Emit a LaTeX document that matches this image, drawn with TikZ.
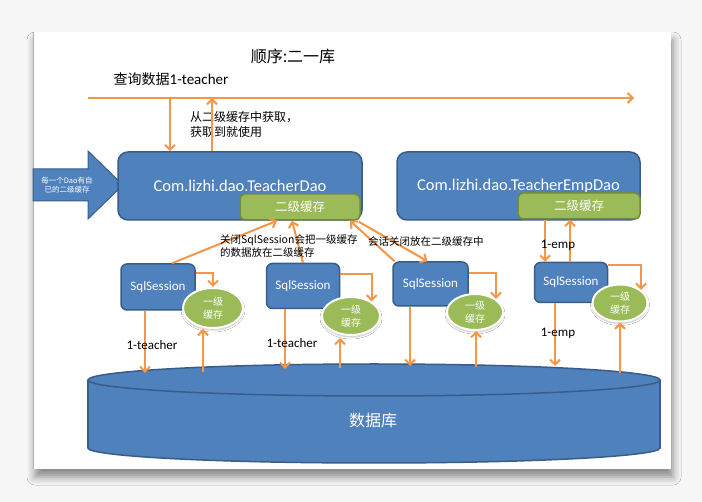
\documentclass[tikz,border=0pt]{standalone}
\usepackage{fontspec}
\setmainfont{Carlito}
\newfontfamily\cjk{Noto Sans CJK SC}
\usetikzlibrary{arrows.meta,positioning,shapes.geometric,shadows.blur,calc}
\definecolor{boxblue}{HTML}{4F81BD}
\definecolor{boxedge}{HTML}{385D8A}
\definecolor{cachegreen}{HTML}{9BBB59}
\definecolor{cacheedge}{HTML}{71893F}
\definecolor{flow}{HTML}{F79646}
\tikzset{
	flowarrow/.style={draw=flow, line width=2pt, -{Straight Barb[length=5pt,width=10pt]}},
	dao/.style={draw=boxedge, line width=1.5pt, fill=boxblue, rounded corners=10pt, minimum width=244pt, minimum height=68pt, text=white, font=\fontsize{16.5}{19}\selectfont},
	lvtwo/.style={draw=cacheedge, line width=1.5pt, fill=cachegreen, rounded corners=5pt, minimum height=26pt, text=white, font=\cjk\fontsize{12.5}{15}\selectfont},
	session/.style={draw=boxedge, line width=1.5pt, fill=boxblue, rounded corners=6pt, text=white, font=\fontsize{13}{15}\selectfont},
	lvone/.style={ellipse, draw=white, line width=2pt, fill=cachegreen, inner sep=0pt, align=center, text=white, font=\cjk\fontsize{10}{12.5}\selectfont,
		blur shadow={shadow xshift=0pt, shadow yshift=-2pt, shadow blur radius=2pt, shadow opacity=25}},
	note/.style={font=\cjk\fontsize{10.5}{13}\selectfont, align=left, inner sep=0pt},
	tag/.style={font=\fontsize{13}{15}\selectfont, inner sep=0pt}
}
\begin{document}
\begin{tikzpicture}[x=1pt,y=-1pt]
	\useasboundingbox (0,0) rectangle (702,502);
	% page
	\fill[white!97!black] (0,0) rectangle (702,502);
	\fill[white, blur shadow={shadow xshift=2pt, shadow yshift=-8pt, shadow blur radius=8pt, shadow opacity=45}] (33,32) rectangle (671,469);
	\draw[black!30, line width=0.8pt] (33,32) -- (33,469);
	% titles
	\node[font=\cjk\fontsize{16}{19}\selectfont] (title) at (293,56) {顺序:二一库};
	\node[font=\fontsize{15}{18}\selectfont] (query) at (171,79) {{\cjk\fontsize{14}{17}\selectfont 查询数据}1-teacher};
	\coordinate (qstart) at (88,98);
	\coordinate (qend) at (634,98);
	\draw[flowarrow] (qstart) -- (qend);
	\node[note, font=\cjk\fontsize{12}{15}\selectfont, anchor=north west] (fromtwo) at (190,111) {从二级缓存中获取，\\获取到就使用};
	% left arrow
	\filldraw[fill=boxblue, draw=boxedge, line width=1pt] (33,169) -- (88,169) -- (88,151) -- (123,185) -- (88,219) -- (88,201) -- (33,201) -- cycle;
	\node[text=white, font=\cjk\fontsize{7.5}{9.5}\selectfont, align=center] (owncache) at (67,185) {每一个Dao有自\\已的二级缓存};
	% dao boxes
	\node[dao] (dao1) at (240,186) {Com.lizhi.dao.TeacherDao};
	\node[dao, minimum width=243pt] (dao2) at (518.5,186) {Com.lizhi.dao.TeacherEmpDao};
	\node[lvtwo, minimum width=120pt] (c1) at (300,207) {二级缓存};
	\node[lvtwo, minimum width=122pt] (c2) at (579,206) {二级缓存};
	\coordinate (din) at ([xshift=-70pt]dao1.north);
	\coordinate (dout) at ([xshift=-28pt]dao1.north);
	\draw[flowarrow] (qstart -| din) -- (din);
	\draw[flowarrow] (dout) -- (qstart -| dout);
	% sessions
	\node[session, minimum width=74pt, minimum height=46pt] (s1) at (158,287) {SqlSession};
	\node[session, minimum width=73pt, minimum height=45pt] (s2) at (303,286) {SqlSession};
	\node[session, minimum width=75pt, minimum height=44pt] (s3) at (430.5,284) {SqlSession};
	\node[session, minimum width=73pt, minimum height=40pt] (s4) at (571,282.5) {SqlSession};
	\node[lvone, minimum width=60pt, minimum height=40pt] (e1) at (213,308) {一级\\缓存};
	\node[lvone, minimum width=58pt, minimum height=38pt] (e2) at (351,316) {一级\\缓存};
	\node[lvone, minimum width=56pt, minimum height=36pt] (e3) at (475,312) {一级\\缓存};
	\node[lvone, minimum width=55pt, minimum height=37pt] (e4) at (620,303) {一级\\缓存};
	\draw[flowarrow] ([yshift=-10pt]s1.north east) -| (e1.north);
	\draw[flowarrow] ([yshift=-11pt]s2.north east) -| (e2.35);
	\draw[flowarrow] ([yshift=-12pt]s3.north east) -| (e3.32);
	\draw[flowarrow] ([yshift=-3pt]s4.north east) -| (e4.32);
	% sessions to second level cache
	\draw[flowarrow] ([xshift=14pt]s1.north) -- ([xshift=-23pt]c1.south);
	\draw[flowarrow] (s2.north) -- ([xshift=-8pt]c1.south);
	\draw[flowarrow] ([xshift=-36pt]s3.north) -- ([xshift=50pt]c1.south);
	\draw[flowarrow] ([xshift=-2pt,yshift=-1pt]c1.south east) -- ([xshift=-3pt]s3.north);
	\node[note, anchor=north west] (closenote) at (220,234) {关闭SqlSession会把一级缓存\\的数据放在二级缓存};
	\node[note, anchor=north west] (savenote) at (368,236) {会话关闭放在二级缓存中};
	\coordinate (c2l) at ([xshift=-34pt]c2.south);
	\coordinate (c2r) at ([xshift=-9pt]c2.south);
	\draw[flowarrow] (c2l) -- (c2l |- s4.north);
	\draw[flowarrow] (c2r |- s4.north) -- (c2r);
	\node[tag] (emp1) at (558,245) {1-emp};
	% database
	\filldraw[fill=boxblue, draw=boxedge, line width=1.5pt] (374,448) ellipse[x radius=286, y radius=15];
	\fill[boxblue] (88,380) rectangle (660,448);
	\draw[boxedge, line width=1.5pt] (88,380) -- (88,448) (660,380) -- (660,448);
	\filldraw[fill=boxblue, draw=boxedge, line width=1.5pt] (374,380) ellipse[x radius=286, y radius=16];
	\node[text=white, font=\cjk\fontsize{16}{19}\selectfont] (db) at (373,420) {数据库};
	\coordinate (d1) at (145,373);
	\coordinate (u1) at (203,372);
	\coordinate (d2) at (285,369);
	\coordinate (u2) at (340,368);
	\coordinate (d3) at (410,366);
	\coordinate (u3) at (476,367);
	\coordinate (d4) at (555,366);
	\coordinate (u4) at (620,373);
	\draw[flowarrow] (s1.south -| d1) -- (d1);
	\draw[flowarrow] (s2.south -| d2) -- (d2);
	\draw[flowarrow] (s3.south -| d3) -- (d3);
	\draw[flowarrow] (s4.south -| d4) -- (d4);
	\draw[flowarrow] (u1) -- (e1.south -| u1);
	\draw[flowarrow] (u2) -- ([yshift=-2pt]e2.south -| u2);
	\draw[flowarrow] (u3) -- (e3.south -| u3);
	\draw[flowarrow] (u4) -- (e4.south -| u4);
	\node[tag] (teach1) at (152,345) {1-teacher};
	\node[tag] (teach2) at (292,343) {1-teacher};
	\node[tag] (emp2) at (558,333) {1-emp};
\end{tikzpicture}
\end{document}
